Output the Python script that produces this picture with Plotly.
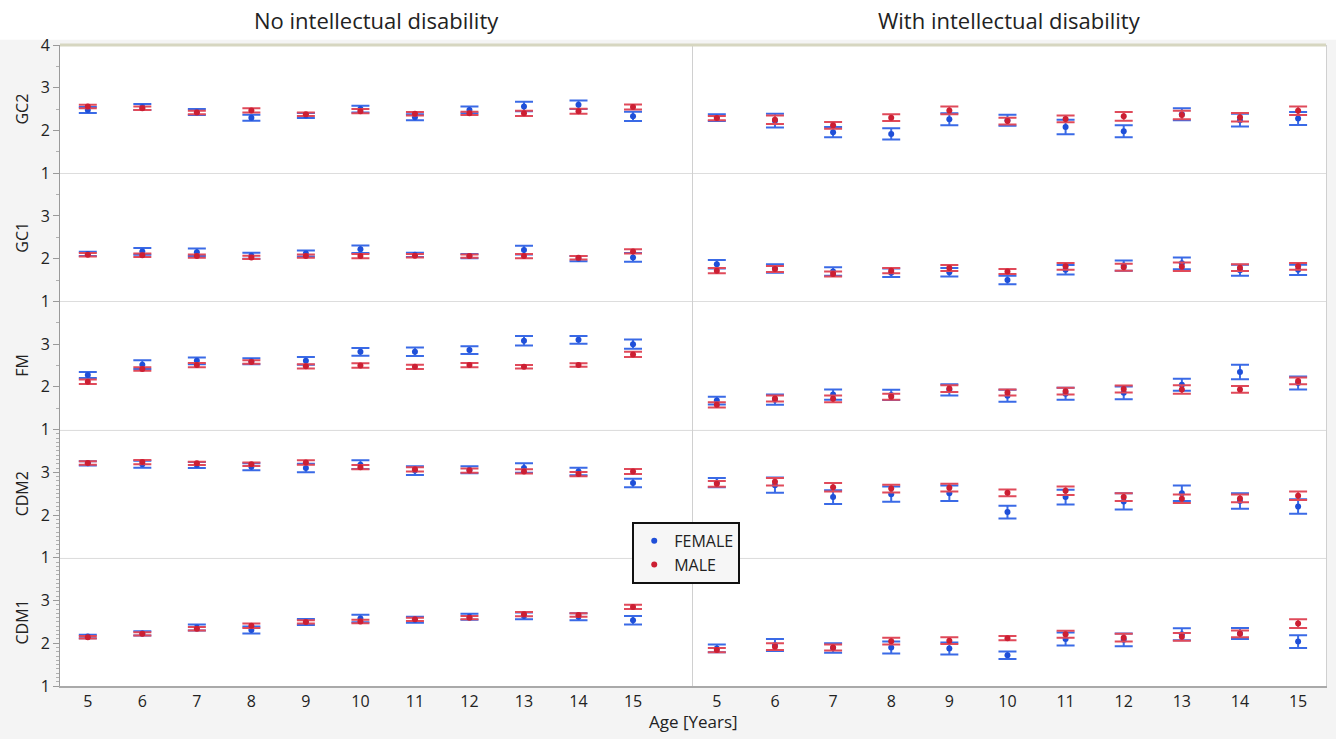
import plotly.graph_objects as go
from plotly.subplots import make_subplots

ages = [5, 6, 7, 8, 9, 10, 11, 12, 13, 14, 15]
measures = ["GC2", "GC1", "FM", "CDM2", "CDM1"]
groups = ["No intellectual disability", "With intellectual disability"]
legend_names = ["FEMALE", "MALE"]

# ---- No intellectual disability ----
gc2_noid_f = [2.48, 2.55, 2.43, 2.30, 2.35, 2.50, 2.31, 2.48, 2.56, 2.60, 2.33]
gc2_noid_f_err = [0.07, 0.07, 0.07, 0.07, 0.06, 0.08, 0.07, 0.08, 0.11, 0.10, 0.11]
gc2_noid_m = [2.56, 2.52, 2.42, 2.47, 2.38, 2.45, 2.39, 2.40, 2.40, 2.45, 2.55]
gc2_noid_m_err = [0.04, 0.04, 0.04, 0.05, 0.04, 0.05, 0.04, 0.04, 0.06, 0.06, 0.06]

gc1_noid_f = [2.11, 2.17, 2.15, 2.07, 2.12, 2.22, 2.09, 2.06, 2.20, 2.00, 2.03]
gc1_noid_f_err = [0.05, 0.08, 0.09, 0.07, 0.07, 0.09, 0.05, 0.05, 0.10, 0.06, 0.10]
gc1_noid_m = [2.09, 2.08, 2.06, 2.03, 2.06, 2.06, 2.07, 2.06, 2.06, 2.02, 2.17]
gc1_noid_m_err = [0.04, 0.04, 0.04, 0.04, 0.04, 0.05, 0.04, 0.04, 0.05, 0.04, 0.05]

fm_noid_f = [2.28, 2.52, 2.61, 2.60, 2.61, 2.82, 2.82, 2.86, 3.08, 3.10, 3.00]
fm_noid_f_err = [0.07, 0.10, 0.08, 0.07, 0.09, 0.09, 0.10, 0.09, 0.11, 0.09, 0.11]
fm_noid_m = [2.12, 2.42, 2.51, 2.58, 2.48, 2.50, 2.47, 2.51, 2.47, 2.51, 2.76]
fm_noid_m_err = [0.05, 0.04, 0.05, 0.04, 0.05, 0.05, 0.05, 0.05, 0.04, 0.04, 0.06]

cdm2_noid_f = [3.21, 3.19, 3.17, 3.13, 3.10, 3.18, 3.04, 3.06, 3.10, 3.02, 2.75]
cdm2_noid_f_err = [0.05, 0.08, 0.07, 0.08, 0.10, 0.10, 0.10, 0.08, 0.11, 0.09, 0.10]
cdm2_noid_m = [3.22, 3.24, 3.21, 3.19, 3.23, 3.12, 3.07, 3.04, 3.02, 2.96, 3.02]
cdm2_noid_m_err = [0.04, 0.05, 0.04, 0.04, 0.05, 0.05, 0.05, 0.05, 0.05, 0.05, 0.06]

cdm1_noid_f = [2.16, 2.23, 2.37, 2.31, 2.50, 2.58, 2.55, 2.62, 2.64, 2.62, 2.54]
cdm1_noid_f_err = [0.04, 0.05, 0.07, 0.08, 0.07, 0.09, 0.07, 0.07, 0.08, 0.08, 0.10]
cdm1_noid_m = [2.14, 2.22, 2.34, 2.41, 2.50, 2.51, 2.56, 2.60, 2.68, 2.66, 2.85]
cdm1_noid_m_err = [0.03, 0.04, 0.04, 0.05, 0.04, 0.04, 0.04, 0.04, 0.05, 0.04, 0.05]

# ---- With intellectual disability ----
gc2_id_f = [2.30, 2.23, 1.96, 1.92, 2.26, 2.24, 2.08, 1.98, 2.38, 2.24, 2.28]
gc2_id_f_err = [0.08, 0.16, 0.12, 0.13, 0.14, 0.13, 0.17, 0.14, 0.14, 0.15, 0.15]
gc2_id_m = [2.29, 2.25, 2.12, 2.30, 2.47, 2.22, 2.27, 2.33, 2.36, 2.31, 2.46]
gc2_id_m_err = [0.05, 0.10, 0.08, 0.08, 0.09, 0.08, 0.08, 0.10, 0.10, 0.10, 0.10]

gc1_id_f = [1.87, 1.77, 1.70, 1.67, 1.68, 1.50, 1.74, 1.84, 1.89, 1.73, 1.74]
gc1_id_f_err = [0.10, 0.10, 0.10, 0.10, 0.10, 0.10, 0.11, 0.12, 0.14, 0.13, 0.12]
gc1_id_m = [1.72, 1.76, 1.64, 1.72, 1.78, 1.70, 1.82, 1.80, 1.81, 1.79, 1.82]
gc1_id_m_err = [0.06, 0.07, 0.06, 0.06, 0.07, 0.06, 0.08, 0.08, 0.10, 0.08, 0.08]

fm_id_f = [1.68, 1.70, 1.82, 1.81, 1.93, 1.79, 1.84, 1.86, 2.05, 2.35, 2.09]
fm_id_f_err = [0.09, 0.12, 0.12, 0.12, 0.13, 0.14, 0.14, 0.15, 0.14, 0.17, 0.15]
fm_id_m = [1.58, 1.73, 1.72, 1.77, 1.96, 1.87, 1.90, 1.95, 1.94, 1.94, 2.14]
fm_id_m_err = [0.06, 0.07, 0.08, 0.07, 0.08, 0.07, 0.08, 0.08, 0.10, 0.08, 0.08]

cdm2_id_f = [2.76, 2.70, 2.42, 2.49, 2.51, 2.07, 2.42, 2.32, 2.51, 2.33, 2.20]
cdm2_id_f_err = [0.11, 0.18, 0.16, 0.18, 0.18, 0.15, 0.17, 0.19, 0.18, 0.18, 0.17]
cdm2_id_m = [2.73, 2.78, 2.65, 2.62, 2.64, 2.52, 2.57, 2.42, 2.38, 2.39, 2.45]
cdm2_id_m_err = [0.07, 0.09, 0.10, 0.09, 0.09, 0.08, 0.10, 0.09, 0.10, 0.09, 0.10]

cdm1_id_f = [1.88, 1.96, 1.89, 1.90, 1.88, 1.72, 2.10, 2.08, 2.21, 2.23, 2.04]
cdm1_id_f_err = [0.09, 0.14, 0.11, 0.14, 0.14, 0.09, 0.15, 0.15, 0.14, 0.13, 0.15]
cdm1_id_m = [1.84, 1.92, 1.90, 2.05, 2.06, 2.12, 2.21, 2.13, 2.15, 2.22, 2.46]
cdm1_id_m_err = [0.05, 0.08, 0.07, 0.08, 0.08, 0.05, 0.08, 0.09, 0.09, 0.08, 0.10]

panels = {
    ("GC2", 0): (gc2_noid_f, gc2_noid_f_err, gc2_noid_m, gc2_noid_m_err),
    ("GC2", 1): (gc2_id_f, gc2_id_f_err, gc2_id_m, gc2_id_m_err),
    ("GC1", 0): (gc1_noid_f, gc1_noid_f_err, gc1_noid_m, gc1_noid_m_err),
    ("GC1", 1): (gc1_id_f, gc1_id_f_err, gc1_id_m, gc1_id_m_err),
    ("FM", 0): (fm_noid_f, fm_noid_f_err, fm_noid_m, fm_noid_m_err),
    ("FM", 1): (fm_id_f, fm_id_f_err, fm_id_m, fm_id_m_err),
    ("CDM2", 0): (cdm2_noid_f, cdm2_noid_f_err, cdm2_noid_m, cdm2_noid_m_err),
    ("CDM2", 1): (cdm2_id_f, cdm2_id_f_err, cdm2_id_m, cdm2_id_m_err),
    ("CDM1", 0): (cdm1_noid_f, cdm1_noid_f_err, cdm1_noid_m, cdm1_noid_m_err),
    ("CDM1", 1): (cdm1_id_f, cdm1_id_f_err, cdm1_id_m, cdm1_id_m_err),
}

BLUE = "#1f4fd8"
BLUE_BAR = "#3a6ae6"
RED = "#cc1f33"
RED_BAR = "#e04a5a"
FONT = "Open Sans"
TXT = "#222222"

fig = make_subplots(rows=5, cols=2, horizontal_spacing=0, vertical_spacing=0)

for r, meas in enumerate(measures, start=1):
    for c in (0, 1):
        f_mean, f_err, m_mean, m_err = panels[(meas, c)]
        show = (r == 1 and c == 0)
        fig.add_trace(go.Scatter(
            x=ages, y=f_mean, mode="markers", name=legend_names[0], legendgroup="F",
            showlegend=show, marker=dict(color=BLUE, size=6),
            error_y=dict(type="data", array=f_err, color=BLUE_BAR, thickness=2, width=9),
        ), row=r, col=c + 1)
        fig.add_trace(go.Scatter(
            x=ages, y=m_mean, mode="markers", name=legend_names[1], legendgroup="M",
            showlegend=show, marker=dict(color=RED, size=6),
            error_y=dict(type="data", array=m_err, color=RED_BAR, thickness=2, width=9),
        ), row=r, col=c + 1)

        fig.update_xaxes(
            range=[4.49, 16.1] if c == 0 else [4.59, 15.48],
            showgrid=False, zeroline=False, tickvals=ages, ticks="",
            showticklabels=(r == 5),
            tickfont=dict(family=FONT, size=16, color=TXT),
            showline=True,
            linecolor="#a9a9a9" if r == 5 else "#dddddd",
            linewidth=2 if r == 5 else 1,
            row=r, col=c + 1,
        )
        minor_step = 0.5 if r <= 3 else 0.1
        minor_vals = [round(1 + k * minor_step, 2) for k in range(int(round(3 / minor_step)) + 1)]
        major = [1, 2, 3, 4] if r == 1 else [1, 2, 3]
        minor_vals = [v for v in minor_vals if v not in (1, 2, 3, 4)]
        if c == 0:
            fig.update_yaxes(
                range=[1, 4], showgrid=False, zeroline=False,
                tickvals=major, ticks="outside", ticklen=6, tickcolor="#9a9a9a",
                tickfont=dict(family=FONT, size=16, color=TXT),
                showline=True, linecolor="#9a9a9a", linewidth=1,
                minor=dict(tickvals=minor_vals, ticks="outside", ticklen=3,
                           tickcolor="#b0b0b0", showgrid=False),
                title=dict(text=meas, font=dict(family=FONT, size=16, color=TXT), standoff=8),
                row=r, col=1,
            )
        else:
            fig.update_yaxes(
                range=[1, 4], showgrid=False, zeroline=False,
                showticklabels=False, ticks="",
                showline=True, mirror=True, linecolor="#d0d0d0", linewidth=1,
                row=r, col=2,
            )

fig.update_layout(
    width=1336, height=739,
    margin=dict(l=60, r=10, t=45, b=53, autoexpand=False),
    paper_bgcolor="#f4f4f4",
    plot_bgcolor="#ffffff",
    font=dict(family=FONT, color=TXT),
    legend=dict(
        x=0.452, y=0.256, xanchor="left", yanchor="top",
        bgcolor="#f6f6f6", bordercolor="#111111", borderwidth=2,
        font=dict(family=FONT, size=16, color=TXT),
        tracegroupgap=0, itemwidth=30,
    ),
    shapes=[
        dict(type="rect", xref="paper", yref="paper", x0=-0.06, x1=1.02, y0=1.008, y1=1.08,
             fillcolor="#ffffff", line=dict(width=0), layer="below"),
        dict(type="line", xref="paper", yref="paper", x0=0, x1=1, y0=1, y1=1,
             line=dict(color="#d6d6c0", width=3)),
    ],
    annotations=[
        dict(text=groups[0], xref="paper", yref="paper", x=0.25, y=1.0,
             xanchor="center", yanchor="middle",
             yshift=25, showarrow=False, font=dict(family=FONT, size=22, color=TXT)),
        dict(text=groups[1], xref="paper", yref="paper", x=0.75, y=1.0,
             xanchor="center", yanchor="middle",
             yshift=25, showarrow=False, font=dict(family=FONT, size=22, color=TXT)),
        dict(text="Age [Years]", xref="paper", yref="paper", x=0.5, y=0.0,
             xanchor="center", yanchor="middle",
             yshift=-35, showarrow=False, font=dict(family=FONT, size=17, color=TXT)),
    ],
)

fig.write_html(
    "out.html",
    config={"displayModeBar": False},
    post_script="document.body.style.margin='0';document.body.style.overflow='hidden';",
)
